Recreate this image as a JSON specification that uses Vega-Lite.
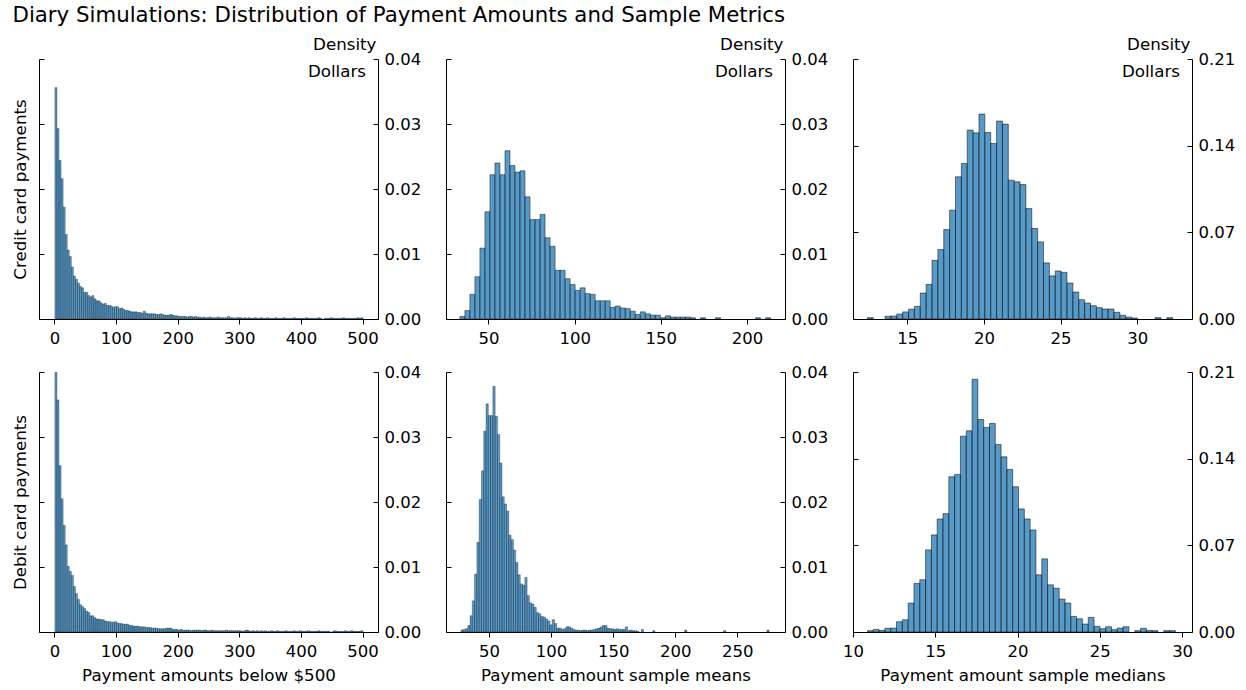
{
"$schema":"https://vega.github.io/schema/vega-lite/v6.json",
"padding":{"left":12,"top":4,"right":5,"bottom":5},
"title":{"text":"Diary Simulations: Distribution of Payment Amounts and Sample Metrics","anchor":"start","fontSize":21.3,"fontWeight":"normal","color":"#000","font":"DejaVu Sans","offset":10.5},
"columns":3,
"spacing":{"row":53,"column":68},
"bounds":"flush",
"datasets":{
"p1":[{"a":0,"b":3.33,"d":0.0356},{"a":3.33,"b":6.67,"d":0.0293},{"a":6.67,"b":10,"d":0.0244},{"a":10,"b":13.33,"d":0.0216},{"a":13.33,"b":16.67,"d":0.0172},{"a":16.67,"b":20,"d":0.0130},{"a":20,"b":23.33,"d":0.0106},{"a":23.33,"b":26.67,"d":0.0096},{"a":26.67,"b":30,"d":0.0080},{"a":30,"b":33.33,"d":0.0066},{"a":33.33,"b":36.67,"d":0.0061},{"a":36.67,"b":40,"d":0.0055},{"a":40,"b":43.33,"d":0.0050},{"a":43.33,"b":46.67,"d":0.0048},{"a":46.67,"b":50,"d":0.0041},{"a":50,"b":53.33,"d":0.0041},{"a":53.33,"b":56.67,"d":0.0036},{"a":56.67,"b":60,"d":0.0034},{"a":60,"b":63.33,"d":0.0036},{"a":63.33,"b":66.67,"d":0.0031},{"a":66.67,"b":70,"d":0.0028},{"a":70,"b":73.33,"d":0.0028},{"a":73.33,"b":76.67,"d":0.0025},{"a":76.67,"b":80,"d":0.0023},{"a":80,"b":83.33,"d":0.0024},{"a":83.33,"b":86.67,"d":0.0021},{"a":86.67,"b":90,"d":0.0021},{"a":90,"b":93.33,"d":0.0020},{"a":93.33,"b":96.67,"d":0.0018},{"a":96.67,"b":100,"d":0.0019},{"a":100,"b":103.33,"d":0.0019},{"a":103.33,"b":106.67,"d":0.0016},{"a":106.67,"b":110,"d":0.0017},{"a":110,"b":113.33,"d":0.0015},{"a":113.33,"b":116.67,"d":0.0013},{"a":116.67,"b":120,"d":0.0013},{"a":120,"b":123.33,"d":0.0012},{"a":123.33,"b":126.67,"d":0.0011},{"a":126.67,"b":130,"d":0.0011},{"a":130,"b":133.33,"d":0.0011},{"a":133.33,"b":136.67,"d":0.0010},{"a":136.67,"b":140,"d":0.0010},{"a":140,"b":143.33,"d":0.0009},{"a":143.33,"b":146.67,"d":0.0012},{"a":146.67,"b":150,"d":0.0009},{"a":150,"b":153.33,"d":0.0008},{"a":153.33,"b":156.67,"d":0.0008},{"a":156.67,"b":160,"d":0.0008},{"a":160,"b":163.33,"d":0.0008},{"a":163.33,"b":166.67,"d":0.0007},{"a":166.67,"b":170,"d":0.0007},{"a":170,"b":173.33,"d":0.0008},{"a":173.33,"b":176.67,"d":0.0007},{"a":176.67,"b":180,"d":0.0006},{"a":180,"b":183.33,"d":0.0006},{"a":183.33,"b":186.67,"d":0.0006},{"a":186.67,"b":190,"d":0.0007},{"a":190,"b":193.33,"d":0.0006},{"a":193.33,"b":196.67,"d":0.0005},{"a":196.67,"b":200,"d":0.0005},{"a":200,"b":203.33,"d":0.0004},{"a":203.33,"b":206.67,"d":0.0004},{"a":206.67,"b":210,"d":0.0004},{"a":210,"b":213.33,"d":0.0004},{"a":213.33,"b":216.67,"d":0.0003},{"a":216.67,"b":220,"d":0.0004},{"a":220,"b":223.33,"d":0.0004},{"a":223.33,"b":226.67,"d":0.0003},{"a":226.67,"b":230,"d":0.0004},{"a":230,"b":233.33,"d":0.0003},{"a":233.33,"b":236.67,"d":0.0003},{"a":236.67,"b":240,"d":0.0002},{"a":240,"b":243.33,"d":0.0003},{"a":243.33,"b":246.67,"d":0.0002},{"a":246.67,"b":250,"d":0.0002},{"a":250,"b":253.33,"d":0.0003},{"a":253.33,"b":256.67,"d":0.0002},{"a":256.67,"b":260,"d":0.0002},{"a":260,"b":263.33,"d":0.0002},{"a":263.33,"b":266.67,"d":0.0003},{"a":266.67,"b":270,"d":0.0002},{"a":270,"b":273.33,"d":0.0002},{"a":273.33,"b":276.67,"d":0.0002},{"a":276.67,"b":280,"d":0.0002},{"a":280,"b":283.33,"d":0.0004},{"a":283.33,"b":286.67,"d":0.0002},{"a":286.67,"b":290,"d":0.0002},{"a":290,"b":293.33,"d":0.0001},{"a":293.33,"b":296.67,"d":0.0002},{"a":296.67,"b":300,"d":0.0002},{"a":300,"b":303.33,"d":0.0002},{"a":303.33,"b":306.67,"d":0.0001},{"a":306.67,"b":310,"d":0.0002},{"a":310,"b":313.33,"d":0.0001},{"a":313.33,"b":316.67,"d":0.0002},{"a":316.67,"b":320,"d":0.0001},{"a":320,"b":323.33,"d":0.0001},{"a":323.33,"b":326.67,"d":0.0002},{"a":326.67,"b":330,"d":0.0001},{"a":330,"b":333.33,"d":0.0001},{"a":333.33,"b":336.67,"d":0.0002},{"a":336.67,"b":340,"d":0.0001},{"a":340,"b":343.33,"d":0.0001},{"a":343.33,"b":346.67,"d":0.0002},{"a":346.67,"b":350,"d":0.0001},{"a":350,"b":353.33,"d":0.0001},{"a":353.33,"b":356.67,"d":0.0001},{"a":356.67,"b":360,"d":0.0002},{"a":360,"b":363.33,"d":0.0001},{"a":363.33,"b":366.67,"d":0.0001},{"a":366.67,"b":370,"d":0.0001},{"a":370,"b":373.33,"d":0.0002},{"a":373.33,"b":376.67,"d":0.0001},{"a":376.67,"b":380,"d":0.0001},{"a":380,"b":383.33,"d":0.0001},{"a":383.33,"b":386.67,"d":0.0001},{"a":386.67,"b":390,"d":0.0002},{"a":390,"b":393.33,"d":0.0001},{"a":393.33,"b":396.67,"d":0.0001},{"a":396.67,"b":400,"d":0.0001},{"a":400,"b":403.33,"d":0.0001},{"a":403.33,"b":406.67,"d":0.0001},{"a":406.67,"b":410,"d":0.0002},{"a":410,"b":413.33,"d":0.0001},{"a":413.33,"b":416.67,"d":0.0001},{"a":416.67,"b":420,"d":0.0001},{"a":420,"b":423.33,"d":0.0001},{"a":423.33,"b":426.67,"d":0.0001},{"a":426.67,"b":430,"d":0.0002},{"a":430,"b":433.33,"d":0.0001},{"a":436.67,"b":440,"d":0.0001},{"a":440,"b":443.33,"d":0.0001},{"a":443.33,"b":446.67,"d":0.0001},{"a":446.67,"b":450,"d":0.0002},{"a":450,"b":453.33,"d":0.0001},{"a":453.33,"b":456.67,"d":0.0001},{"a":456.67,"b":460,"d":0.0001},{"a":460,"b":463.33,"d":0.0001},{"a":463.33,"b":466.67,"d":0.0001},{"a":466.67,"b":470,"d":0.0002},{"a":470,"b":473.33,"d":0.0001},{"a":473.33,"b":476.67,"d":0.0001},{"a":476.67,"b":480,"d":0.0001},{"a":480,"b":483.33,"d":0.0001},{"a":483.33,"b":486.67,"d":0.0001},{"a":486.67,"b":490,"d":0.0001},{"a":490,"b":493.33,"d":0.0002},{"a":493.33,"b":496.67,"d":0.0001},{"a":496.67,"b":500,"d":0.0002}],
"p2":[{"a":33.14,"b":36.05,"d":0.0004},{"a":36.05,"b":38.95,"d":0.0013},{"a":38.95,"b":41.86,"d":0.0038},{"a":41.86,"b":44.77,"d":0.0065},{"a":44.77,"b":47.68,"d":0.0109},{"a":47.68,"b":50.58,"d":0.0165},{"a":50.58,"b":53.49,"d":0.0222},{"a":53.49,"b":56.4,"d":0.0240},{"a":56.4,"b":59.3,"d":0.0222},{"a":59.3,"b":62.21,"d":0.0259},{"a":62.21,"b":65.12,"d":0.0236},{"a":65.12,"b":68.02,"d":0.0226},{"a":68.02,"b":70.93,"d":0.0228},{"a":70.93,"b":73.84,"d":0.0188},{"a":73.84,"b":76.75,"d":0.0153},{"a":76.75,"b":79.65,"d":0.0153},{"a":79.65,"b":82.56,"d":0.0161},{"a":82.56,"b":85.47,"d":0.0125},{"a":85.47,"b":88.37,"d":0.0112},{"a":88.37,"b":91.28,"d":0.0075},{"a":91.28,"b":94.19,"d":0.0075},{"a":94.19,"b":97.09,"d":0.0062},{"a":97.09,"b":100,"d":0.0053},{"a":100,"b":102.91,"d":0.0044},{"a":102.91,"b":105.82,"d":0.0048},{"a":105.82,"b":108.72,"d":0.0039},{"a":108.72,"b":111.63,"d":0.0038},{"a":111.63,"b":114.54,"d":0.0028},{"a":114.54,"b":117.44,"d":0.0028},{"a":117.44,"b":120.35,"d":0.0028},{"a":120.35,"b":123.26,"d":0.0018},{"a":123.26,"b":126.16,"d":0.0020},{"a":126.16,"b":129.07,"d":0.0017},{"a":129.07,"b":131.98,"d":0.0016},{"a":131.98,"b":134.89,"d":0.0012},{"a":134.89,"b":137.79,"d":0.0007},{"a":137.79,"b":140.7,"d":0.0011},{"a":140.7,"b":143.61,"d":0.0008},{"a":143.61,"b":146.51,"d":0.0006},{"a":146.51,"b":149.42,"d":0.0006},{"a":149.42,"b":152.33,"d":0.0002},{"a":152.33,"b":155.23,"d":0.0005},{"a":155.23,"b":158.14,"d":0.0003},{"a":158.14,"b":161.05,"d":0.0003},{"a":161.05,"b":163.96,"d":0.0003},{"a":163.96,"b":166.86,"d":0.0003},{"a":166.86,"b":169.77,"d":0.0002},{"a":172.68,"b":175.58,"d":0.0002},{"a":181.4,"b":184.3,"d":0.0002},{"a":204.65,"b":207.56,"d":0.0002},{"a":210.47,"b":213.37,"d":0.0002}],
"p3":[{"a":12.37,"b":12.753,"d":0.0011},{"a":13.519,"b":13.902,"d":0.0022},{"a":13.902,"b":14.285,"d":0.0024},{"a":14.285,"b":14.668,"d":0.0040},{"a":14.668,"b":15.051,"d":0.0057},{"a":15.051,"b":15.434,"d":0.0080},{"a":15.434,"b":15.817,"d":0.0102},{"a":15.817,"b":16.2,"d":0.0210},{"a":16.2,"b":16.583,"d":0.0280},{"a":16.583,"b":16.966,"d":0.0474},{"a":16.966,"b":17.349,"d":0.0561},{"a":17.349,"b":17.732,"d":0.0722},{"a":17.732,"b":18.115,"d":0.0879},{"a":18.115,"b":18.498,"d":0.1148},{"a":18.498,"b":18.881,"d":0.1256},{"a":18.881,"b":19.264,"d":0.1526},{"a":19.264,"b":19.647,"d":0.1504},{"a":19.647,"b":20.03,"d":0.1655},{"a":20.03,"b":20.413,"d":0.1507},{"a":20.413,"b":20.796,"d":0.1418},{"a":20.796,"b":21.179,"d":0.1599},{"a":21.179,"b":21.562,"d":0.1574},{"a":21.562,"b":21.945,"d":0.1121},{"a":21.945,"b":22.328,"d":0.1108},{"a":22.328,"b":22.711,"d":0.1086},{"a":22.711,"b":23.094,"d":0.0892},{"a":23.094,"b":23.477,"d":0.0731},{"a":23.477,"b":23.86,"d":0.0623},{"a":23.86,"b":24.243,"d":0.0453},{"a":24.243,"b":24.626,"d":0.0348},{"a":24.626,"b":25.009,"d":0.0388},{"a":25.009,"b":25.392,"d":0.0377},{"a":25.392,"b":25.775,"d":0.0291},{"a":25.775,"b":26.158,"d":0.0218},{"a":26.158,"b":26.541,"d":0.0156},{"a":26.541,"b":26.924,"d":0.0129},{"a":26.924,"b":27.307,"d":0.0108},{"a":27.307,"b":27.69,"d":0.0092},{"a":27.69,"b":28.073,"d":0.0081},{"a":28.073,"b":28.456,"d":0.0081},{"a":28.456,"b":28.839,"d":0.0054},{"a":28.839,"b":29.222,"d":0.0030},{"a":29.222,"b":29.605,"d":0.0016},{"a":29.605,"b":29.988,"d":0.0008},{"a":31.137,"b":31.52,"d":0.0011},{"a":31.903,"b":32.286,"d":0.0011}],
"p4":[{"a":0,"b":3.33,"d":0.0420},{"a":3.33,"b":6.67,"d":0.0357},{"a":6.67,"b":10,"d":0.0256},{"a":10,"b":13.33,"d":0.0205},{"a":13.33,"b":16.67,"d":0.0164},{"a":16.67,"b":20,"d":0.0134},{"a":20,"b":23.33,"d":0.0101},{"a":23.33,"b":26.67,"d":0.0093},{"a":26.67,"b":30,"d":0.0087},{"a":30,"b":33.33,"d":0.0070},{"a":33.33,"b":36.67,"d":0.0059},{"a":36.67,"b":40,"d":0.0050},{"a":40,"b":43.33,"d":0.0042},{"a":43.33,"b":46.67,"d":0.0039},{"a":46.67,"b":50,"d":0.0036},{"a":50,"b":53.33,"d":0.0032},{"a":53.33,"b":56.67,"d":0.0030},{"a":56.67,"b":60,"d":0.0025},{"a":60,"b":63.33,"d":0.0025},{"a":63.33,"b":66.67,"d":0.0022},{"a":66.67,"b":70,"d":0.0020},{"a":70,"b":73.33,"d":0.0020},{"a":73.33,"b":76.67,"d":0.0019},{"a":76.67,"b":80,"d":0.0019},{"a":80,"b":83.33,"d":0.0017},{"a":83.33,"b":86.67,"d":0.0016},{"a":86.67,"b":90,"d":0.0016},{"a":90,"b":93.33,"d":0.0015},{"a":93.33,"b":96.67,"d":0.0015},{"a":96.67,"b":100,"d":0.0016},{"a":100,"b":103.33,"d":0.0014},{"a":103.33,"b":106.67,"d":0.0013},{"a":106.67,"b":110,"d":0.0013},{"a":110,"b":113.33,"d":0.0012},{"a":113.33,"b":116.67,"d":0.0012},{"a":116.67,"b":120,"d":0.0012},{"a":120,"b":123.33,"d":0.0010},{"a":123.33,"b":126.67,"d":0.0010},{"a":126.67,"b":130,"d":0.0009},{"a":130,"b":133.33,"d":0.0009},{"a":133.33,"b":136.67,"d":0.0009},{"a":136.67,"b":140,"d":0.0008},{"a":140,"b":143.33,"d":0.0008},{"a":143.33,"b":146.67,"d":0.0008},{"a":146.67,"b":150,"d":0.0007},{"a":150,"b":153.33,"d":0.0007},{"a":153.33,"b":156.67,"d":0.0007},{"a":156.67,"b":160,"d":0.0006},{"a":160,"b":163.33,"d":0.0006},{"a":163.33,"b":166.67,"d":0.0006},{"a":166.67,"b":170,"d":0.0005},{"a":170,"b":173.33,"d":0.0005},{"a":173.33,"b":176.67,"d":0.0005},{"a":176.67,"b":180,"d":0.0005},{"a":180,"b":183.33,"d":0.0006},{"a":183.33,"b":186.67,"d":0.0006},{"a":186.67,"b":190,"d":0.0006},{"a":190,"b":193.33,"d":0.0004},{"a":193.33,"b":196.67,"d":0.0004},{"a":196.67,"b":200,"d":0.0004},{"a":200,"b":203.33,"d":0.0003},{"a":203.33,"b":206.67,"d":0.0004},{"a":206.67,"b":210,"d":0.0003},{"a":210,"b":213.33,"d":0.0003},{"a":213.33,"b":216.67,"d":0.0003},{"a":216.67,"b":220,"d":0.0003},{"a":220,"b":223.33,"d":0.0002},{"a":223.33,"b":226.67,"d":0.0003},{"a":226.67,"b":230,"d":0.0003},{"a":230,"b":233.33,"d":0.0003},{"a":233.33,"b":236.67,"d":0.0003},{"a":236.67,"b":240,"d":0.0002},{"a":240,"b":243.33,"d":0.0003},{"a":243.33,"b":246.67,"d":0.0003},{"a":246.67,"b":250,"d":0.0002},{"a":250,"b":253.33,"d":0.0002},{"a":253.33,"b":256.67,"d":0.0003},{"a":256.67,"b":260,"d":0.0002},{"a":260,"b":263.33,"d":0.0002},{"a":263.33,"b":266.67,"d":0.0002},{"a":266.67,"b":270,"d":0.0002},{"a":270,"b":273.33,"d":0.0002},{"a":273.33,"b":276.67,"d":0.0002},{"a":276.67,"b":280,"d":0.0003},{"a":280,"b":283.33,"d":0.0002},{"a":283.33,"b":286.67,"d":0.0002},{"a":286.67,"b":290,"d":0.0002},{"a":290,"b":293.33,"d":0.0002},{"a":293.33,"b":296.67,"d":0.0002},{"a":296.67,"b":300,"d":0.0002},{"a":300,"b":303.33,"d":0.0002},{"a":303.33,"b":306.67,"d":0.0001},{"a":306.67,"b":310,"d":0.0002},{"a":310,"b":313.33,"d":0.0003},{"a":313.33,"b":316.67,"d":0.0002},{"a":316.67,"b":320,"d":0.0001},{"a":320,"b":323.33,"d":0.0002},{"a":323.33,"b":326.67,"d":0.0001},{"a":326.67,"b":330,"d":0.0002},{"a":330,"b":333.33,"d":0.0001},{"a":333.33,"b":336.67,"d":0.0002},{"a":336.67,"b":340,"d":0.0001},{"a":340,"b":343.33,"d":0.0002},{"a":343.33,"b":346.67,"d":0.0001},{"a":346.67,"b":350,"d":0.0001},{"a":350,"b":353.33,"d":0.0002},{"a":353.33,"b":356.67,"d":0.0001},{"a":356.67,"b":360,"d":0.0001},{"a":360,"b":363.33,"d":0.0002},{"a":363.33,"b":366.67,"d":0.0001},{"a":366.67,"b":370,"d":0.0001},{"a":370,"b":373.33,"d":0.0001},{"a":373.33,"b":376.67,"d":0.0002},{"a":376.67,"b":380,"d":0.0001},{"a":380,"b":383.33,"d":0.0001},{"a":383.33,"b":386.67,"d":0.0001},{"a":386.67,"b":390,"d":0.0002},{"a":390,"b":393.33,"d":0.0001},{"a":393.33,"b":396.67,"d":0.0001},{"a":396.67,"b":400,"d":0.0002},{"a":400,"b":403.33,"d":0.0001},{"a":403.33,"b":406.67,"d":0.0001},{"a":406.67,"b":410,"d":0.0001},{"a":410,"b":413.33,"d":0.0002},{"a":413.33,"b":416.67,"d":0.0001},{"a":416.67,"b":420,"d":0.0001},{"a":420,"b":423.33,"d":0.0001},{"a":423.33,"b":426.67,"d":0.0001},{"a":426.67,"b":430,"d":0.0002},{"a":430,"b":433.33,"d":0.0001},{"a":433.33,"b":436.67,"d":0.0001},{"a":436.67,"b":440,"d":0.0001},{"a":440,"b":443.33,"d":0.0001},{"a":443.33,"b":446.67,"d":0.0001},{"a":450,"b":453.33,"d":0.0001},{"a":453.33,"b":456.67,"d":0.0002},{"a":456.67,"b":460,"d":0.0001},{"a":460,"b":463.33,"d":0.0001},{"a":463.33,"b":466.67,"d":0.0001},{"a":466.67,"b":470,"d":0.0001},{"a":470,"b":473.33,"d":0.0002},{"a":473.33,"b":476.67,"d":0.0001},{"a":476.67,"b":480,"d":0.0001},{"a":480,"b":483.33,"d":0.0002},{"a":483.33,"b":486.67,"d":0.0001},{"a":486.67,"b":490,"d":0.0001},{"a":490,"b":493.33,"d":0.0001},{"a":493.33,"b":496.67,"d":0.0001},{"a":496.67,"b":500,"d":0.0002}],
"p5":[{"a":26.9,"b":28.74,"d":0.0003},{"a":28.74,"b":30.58,"d":0.0004},{"a":30.58,"b":32.42,"d":0.0005},{"a":32.42,"b":34.26,"d":0.0010},{"a":34.26,"b":36.1,"d":0.0025},{"a":36.1,"b":37.94,"d":0.0048},{"a":37.94,"b":39.78,"d":0.0089},{"a":39.78,"b":41.62,"d":0.0138},{"a":41.62,"b":43.46,"d":0.0204},{"a":43.46,"b":45.3,"d":0.0248},{"a":45.3,"b":47.14,"d":0.0309},{"a":47.14,"b":48.98,"d":0.0351},{"a":48.98,"b":50.82,"d":0.0333},{"a":50.82,"b":52.66,"d":0.0333},{"a":52.66,"b":54.5,"d":0.0378},{"a":54.5,"b":56.34,"d":0.0332},{"a":56.34,"b":58.18,"d":0.0304},{"a":58.18,"b":60.02,"d":0.0260},{"a":60.02,"b":61.86,"d":0.0208},{"a":61.86,"b":63.7,"d":0.0197},{"a":63.7,"b":65.54,"d":0.0186},{"a":65.54,"b":67.38,"d":0.0149},{"a":67.38,"b":69.22,"d":0.0142},{"a":69.22,"b":71.06,"d":0.0126},{"a":71.06,"b":72.9,"d":0.0107},{"a":72.9,"b":74.74,"d":0.0088},{"a":74.74,"b":76.58,"d":0.0074},{"a":76.58,"b":78.42,"d":0.0072},{"a":78.42,"b":80.26,"d":0.0084},{"a":80.26,"b":82.1,"d":0.0056},{"a":82.1,"b":83.94,"d":0.0045},{"a":83.94,"b":85.78,"d":0.0043},{"a":85.78,"b":87.62,"d":0.0038},{"a":87.62,"b":89.46,"d":0.0030},{"a":89.46,"b":91.3,"d":0.0028},{"a":91.3,"b":93.14,"d":0.0024},{"a":93.14,"b":94.98,"d":0.0023},{"a":94.98,"b":96.82,"d":0.0020},{"a":96.82,"b":98.66,"d":0.0017},{"a":98.66,"b":100.5,"d":0.0011},{"a":100.5,"b":102.34,"d":0.0019},{"a":102.34,"b":104.18,"d":0.0013},{"a":104.18,"b":106.02,"d":0.0006},{"a":106.02,"b":107.86,"d":0.0006},{"a":107.86,"b":109.7,"d":0.0004},{"a":109.7,"b":111.54,"d":0.0005},{"a":111.54,"b":113.38,"d":0.0008},{"a":113.38,"b":115.22,"d":0.0008},{"a":115.22,"b":117.06,"d":0.0006},{"a":117.06,"b":118.9,"d":0.0004},{"a":118.9,"b":120.74,"d":0.0003},{"a":120.74,"b":122.58,"d":0.0003},{"a":122.58,"b":124.42,"d":0.0002},{"a":124.42,"b":126.26,"d":0.0003},{"a":126.26,"b":128.1,"d":0.0003},{"a":128.1,"b":129.94,"d":0.0002},{"a":129.94,"b":131.78,"d":0.0003},{"a":131.78,"b":133.62,"d":0.0003},{"a":133.62,"b":135.46,"d":0.0004},{"a":135.46,"b":137.3,"d":0.0005},{"a":137.3,"b":139.14,"d":0.0006},{"a":139.14,"b":140.98,"d":0.0008},{"a":140.98,"b":142.82,"d":0.0010},{"a":142.82,"b":144.66,"d":0.0010},{"a":144.66,"b":146.5,"d":0.0006},{"a":146.5,"b":148.34,"d":0.0005},{"a":148.34,"b":150.18,"d":0.0005},{"a":150.18,"b":152.02,"d":0.0004},{"a":152.02,"b":153.86,"d":0.0005},{"a":153.86,"b":155.7,"d":0.0004},{"a":155.7,"b":157.54,"d":0.0004},{"a":157.54,"b":159.38,"d":0.0004},{"a":159.38,"b":161.22,"d":0.0008},{"a":161.22,"b":163.06,"d":0.0002},{"a":163.06,"b":164.9,"d":0.0003},{"a":164.9,"b":166.74,"d":0.0002},{"a":166.74,"b":168.58,"d":0.0002},{"a":168.58,"b":170.42,"d":0.0001},{"a":172.26,"b":174.1,"d":0.0004},{"a":181.46,"b":183.3,"d":0.0002},{"a":207.22,"b":209.06,"d":0.0003},{"a":238.5,"b":240.34,"d":0.0002},{"a":273.46,"b":275.3,"d":0.0003}],
"p6":[{"a":10.85,"b":11.203,"d":0.0011},{"a":11.203,"b":11.556,"d":0.0021},{"a":11.556,"b":11.909,"d":0.0013},{"a":11.909,"b":12.262,"d":0.0030},{"a":12.262,"b":12.615,"d":0.0032},{"a":12.615,"b":12.968,"d":0.0083},{"a":12.968,"b":13.321,"d":0.0099},{"a":13.321,"b":13.674,"d":0.0234},{"a":13.674,"b":14.027,"d":0.0392},{"a":14.027,"b":14.38,"d":0.0422},{"a":14.38,"b":14.733,"d":0.0663},{"a":14.733,"b":15.086,"d":0.0784},{"a":15.086,"b":15.439,"d":0.0913},{"a":15.439,"b":15.792,"d":0.0956},{"a":15.792,"b":16.145,"d":0.1254},{"a":16.145,"b":16.498,"d":0.1273},{"a":16.498,"b":16.851,"d":0.1582},{"a":16.851,"b":17.204,"d":0.1625},{"a":17.204,"b":17.557,"d":0.2041},{"a":17.557,"b":17.91,"d":0.1716},{"a":17.91,"b":18.263,"d":0.1652},{"a":18.263,"b":18.616,"d":0.1684},{"a":18.616,"b":18.969,"d":0.1515},{"a":18.969,"b":19.322,"d":0.1415},{"a":19.322,"b":19.675,"d":0.1313},{"a":19.675,"b":20.028,"d":0.1173},{"a":20.028,"b":20.381,"d":0.0994},{"a":20.381,"b":20.734,"d":0.0913},{"a":20.734,"b":21.087,"d":0.0824},{"a":21.087,"b":21.44,"d":0.0462},{"a":21.44,"b":21.793,"d":0.0591},{"a":21.793,"b":22.146,"d":0.0381},{"a":22.146,"b":22.499,"d":0.0354},{"a":22.499,"b":22.852,"d":0.0266},{"a":22.852,"b":23.205,"d":0.0234},{"a":23.205,"b":23.558,"d":0.0126},{"a":23.558,"b":23.911,"d":0.0107},{"a":23.911,"b":24.264,"d":0.0064},{"a":24.264,"b":24.617,"d":0.0118},{"a":24.617,"b":24.97,"d":0.0046},{"a":24.97,"b":25.323,"d":0.0027},{"a":25.323,"b":25.676,"d":0.0043},{"a":25.676,"b":26.029,"d":0.0019},{"a":26.029,"b":26.382,"d":0.0032},{"a":26.382,"b":26.735,"d":0.0043},{"a":27.088,"b":27.441,"d":0.0011},{"a":27.441,"b":27.794,"d":0.0030},{"a":27.794,"b":28.147,"d":0.0013},{"a":28.147,"b":28.5,"d":0.0011},{"a":28.853,"b":29.206,"d":0.0011},{"a":29.206,"b":29.559,"d":0.0011}]
},
"concat":[
{"width":339,"height":260,"layer":[
 {"data":{"name":"p1"},"mark":{"type":"bar","binSpacing":0,"clip":true,"fill":"#1f77b4","fillOpacity":0.75,"stroke":"#000","strokeOpacity":0.6,"strokeWidth":0.5},
  "encoding":{"x":{"field":"a","type":"quantitative","bin":"binned","scale":{"domain":[-25,525],"nice":false,"zero":false},"axis":{"values":[0,100,200,300,400,500],"format":"d","title":null}},"x2":{"field":"b"},
  "y":{"field":"d","type":"quantitative","scale":{"domain":[0,0.04],"nice":false},"axis":{"orient":"left","values":[0,0.01,0.02,0.03,0.04],"title":"Credit card payments"}}}},
 {"data":{"values":[{}]},"mark":{"type":"text","text":"Dollars","align":"right","baseline":"alphabetic","fontSize":16.7,"dx":-12,"dy":17.5,"color":"#000"},
  "encoding":{"x":{"datum":525,"type":"quantitative","scale":{"domain":[-25,525],"nice":false,"zero":false},"axis":null},
  "y":{"datum":0.04,"type":"quantitative","scale":{"domain":[0,0.04],"nice":false},"axis":{"orient":"right","values":[0,0.01,0.02,0.03,0.04],"format":".2f","title":"Density"}}}}
 ],"resolve":{"axis":{"y":"independent","x":"independent"}}},
{"width":339,"height":260,"layer":[
 {"data":{"name":"p2"},"mark":{"type":"bar","binSpacing":0,"clip":true,"fill":"#1f77b4","fillOpacity":0.75,"stroke":"#000","strokeOpacity":0.55,"strokeWidth":0.8},
  "encoding":{"x":{"field":"a","type":"quantitative","bin":"binned","scale":{"domain":[25.4,222],"nice":false,"zero":false},"axis":{"values":[50,100,150,200],"format":"d","title":null}},"x2":{"field":"b"},
  "y":{"field":"d","type":"quantitative","scale":{"domain":[0,0.04],"nice":false},"axis":{"orient":"left","values":[0,0.01,0.02,0.03,0.04],"title":null}}}},
 {"data":{"values":[{}]},"mark":{"type":"text","text":"Dollars","align":"right","baseline":"alphabetic","fontSize":16.7,"dx":-12,"dy":17.5,"color":"#000"},
  "encoding":{"x":{"datum":222,"type":"quantitative","scale":{"domain":[25.4,222],"nice":false,"zero":false},"axis":null},
  "y":{"datum":0.04,"type":"quantitative","scale":{"domain":[0,0.04],"nice":false},"axis":{"orient":"right","values":[0,0.01,0.02,0.03,0.04],"format":".2f","title":"Density"}}}}
 ],"resolve":{"axis":{"y":"independent","x":"independent"}}},
{"width":339,"height":260,"layer":[
 {"data":{"name":"p3"},"mark":{"type":"bar","binSpacing":0,"clip":true,"fill":"#1f77b4","fillOpacity":0.75,"stroke":"#000","strokeOpacity":0.55,"strokeWidth":0.9},
  "encoding":{"x":{"field":"a","type":"quantitative","bin":"binned","scale":{"domain":[11.46,33.58],"nice":false,"zero":false},"axis":{"values":[15,20,25,30],"format":"d","title":null}},"x2":{"field":"b"},
  "y":{"field":"d","type":"quantitative","scale":{"domain":[0,0.21],"nice":false},"axis":{"orient":"left","values":[0,0.07,0.14,0.21],"title":null}}}},
 {"data":{"values":[{}]},"mark":{"type":"text","text":"Dollars","align":"right","baseline":"alphabetic","fontSize":16.7,"dx":-12,"dy":17.5,"color":"#000"},
  "encoding":{"x":{"datum":33.58,"type":"quantitative","scale":{"domain":[11.46,33.58],"nice":false,"zero":false},"axis":null},
  "y":{"datum":0.21,"type":"quantitative","scale":{"domain":[0,0.21],"nice":false},"axis":{"orient":"right","values":[0,0.07,0.14,0.21],"format":".2f","title":"Density"}}}}
 ],"resolve":{"axis":{"y":"independent","x":"independent"}}},
{"width":339,"height":260,"layer":[
 {"data":{"name":"p4"},"mark":{"type":"bar","binSpacing":0,"clip":true,"fill":"#1f77b4","fillOpacity":0.75,"stroke":"#000","strokeOpacity":0.6,"strokeWidth":0.5},
  "encoding":{"x":{"field":"a","type":"quantitative","bin":"binned","scale":{"domain":[-25,525],"nice":false,"zero":false},"axis":{"values":[0,100,200,300,400,500],"format":"d","title":"Payment amounts below $500"}},"x2":{"field":"b"},
  "y":{"field":"d","type":"quantitative","scale":{"domain":[0,0.04],"nice":false},"axis":{"orient":"left","values":[0,0.01,0.02,0.03,0.04],"title":"Debit card payments"}}}},
 {"data":{"values":[{}]},"mark":{"type":"text","text":"","fontSize":16.7},
  "encoding":{"x":{"datum":525,"type":"quantitative","scale":{"domain":[-25,525],"nice":false,"zero":false},"axis":null},
  "y":{"datum":0.04,"type":"quantitative","scale":{"domain":[0,0.04],"nice":false},"axis":{"orient":"right","values":[0,0.01,0.02,0.03,0.04],"format":".2f","title":null}}}}
 ],"resolve":{"axis":{"y":"independent","x":"independent"}}},
{"width":339,"height":260,"layer":[
 {"data":{"name":"p5"},"mark":{"type":"bar","binSpacing":0,"clip":true,"fill":"#1f77b4","fillOpacity":0.75,"stroke":"#000","strokeOpacity":0.6,"strokeWidth":0.5},
  "encoding":{"x":{"field":"a","type":"quantitative","bin":"binned","scale":{"domain":[15.3,288.5],"nice":false,"zero":false},"axis":{"values":[50,100,150,200,250],"format":"d","title":"Payment amount sample means"}},"x2":{"field":"b"},
  "y":{"field":"d","type":"quantitative","scale":{"domain":[0,0.04],"nice":false},"axis":{"orient":"left","values":[0,0.01,0.02,0.03,0.04],"title":null}}}},
 {"data":{"values":[{}]},"mark":{"type":"text","text":"","fontSize":16.7},
  "encoding":{"x":{"datum":288.5,"type":"quantitative","scale":{"domain":[15.3,288.5],"nice":false,"zero":false},"axis":null},
  "y":{"datum":0.04,"type":"quantitative","scale":{"domain":[0,0.04],"nice":false},"axis":{"orient":"right","values":[0,0.01,0.02,0.03,0.04],"format":".2f","title":null}}}}
 ],"resolve":{"axis":{"y":"independent","x":"independent"}}},
{"width":339,"height":260,"layer":[
 {"data":{"name":"p6"},"mark":{"type":"bar","binSpacing":0,"clip":true,"fill":"#1f77b4","fillOpacity":0.75,"stroke":"#000","strokeOpacity":0.55,"strokeWidth":0.9},
  "encoding":{"x":{"field":"a","type":"quantitative","bin":"binned","scale":{"domain":[10,30.6],"nice":false,"zero":false},"axis":{"values":[10,15,20,25,30],"format":"d","title":"Payment amount sample medians"}},"x2":{"field":"b"},
  "y":{"field":"d","type":"quantitative","scale":{"domain":[0,0.21],"nice":false},"axis":{"orient":"left","values":[0,0.07,0.14,0.21],"title":null}}}},
 {"data":{"values":[{}]},"mark":{"type":"text","text":"","fontSize":16.7},
  "encoding":{"x":{"datum":30.6,"type":"quantitative","scale":{"domain":[10,30.6],"nice":false,"zero":false},"axis":null},
  "y":{"datum":0.21,"type":"quantitative","scale":{"domain":[0,0.21],"nice":false},"axis":{"orient":"right","values":[0,0.07,0.14,0.21],"format":".2f","title":null}}}}
 ],"resolve":{"axis":{"y":"independent","x":"independent"}}}
],
"config":{
 "font":"DejaVu Sans",
 "view":{"stroke":null},
 "text":{"font":"DejaVu Sans"},
 "axis":{"grid":false,"domainColor":"#000","tickColor":"#000","labelColor":"#000","titleColor":"#000","labelFontSize":16.5,"titleFontSize":16.7,"titleFontWeight":"normal","labelFont":"DejaVu Sans","titleFont":"DejaVu Sans","domainWidth":1,"tickWidth":1},
 "axisBottom":{"tickSize":5,"labelPadding":6,"titlePadding":8,"labelFlush":false,"labelOverlap":false},
 "axisLeft":{"tickSize":-5,"labels":false,"titlePadding":9},
 "axisRight":{"tickSize":-5,"labelPadding":11,"titleAngle":0,"titleAlign":"right","titleBaseline":"alphabetic","titleX":-2,"titleY":-9.5,"labelFlush":false,"labelOverlap":false}
}
}
